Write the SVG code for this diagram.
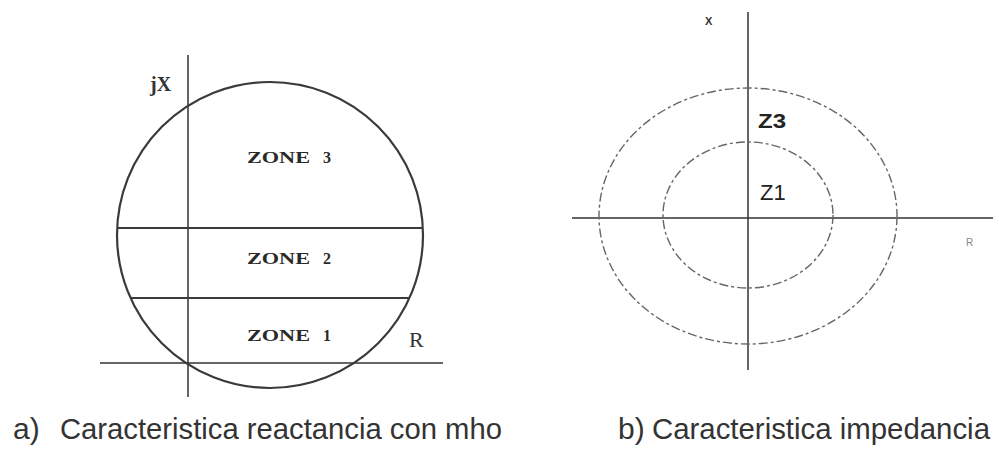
<svg xmlns="http://www.w3.org/2000/svg" width="999" height="449" viewBox="0 0 999 449">
<style>
.ax{stroke:#333;stroke-width:1.5;fill:none}
.bd{stroke:#3a3a3a;stroke-width:2.2;fill:none}
.dash{stroke:#666;stroke-width:1.4;fill:none;stroke-dasharray:9 3 3 3}
.zone{font-family:"Liberation Serif",serif;font-size:16px;font-weight:bold;fill:#2a2a2a}
.cap{font-family:"Liberation Sans",sans-serif;font-size:30px;fill:#333}
</style>
<rect width="999" height="449" fill="#fff"/>
<g id="diagram-a">
<g id="a-axes">
<line class="ax" x1="188" y1="55" x2="188" y2="397"/>
<line class="ax" x1="100" y1="363" x2="443" y2="363"/>
</g>
<g id="a-circle"><circle class="bd" cx="270" cy="235" r="153"/></g>
<g id="a-zones">
<line class="bd" x1="117" y1="228" x2="423" y2="228" stroke-width="2.6"/>
<line class="bd" x1="131" y1="298" x2="409" y2="298" stroke-width="2.6"/>
</g>
<text x="150" y="91" font-family="Liberation Serif,serif" font-size="20" font-weight="bold" fill="#333">jX</text>
<g id="zone3"><text class="zone" x="247" y="163" textLength="63" lengthAdjust="spacingAndGlyphs">ZONE</text><text class="zone" x="323" y="163">3</text></g>
<g id="zone2"><text class="zone" x="247" y="264" textLength="63" lengthAdjust="spacingAndGlyphs">ZONE</text><text class="zone" x="323" y="264">2</text></g>
<g id="zone1"><text class="zone" x="247" y="341" textLength="63" lengthAdjust="spacingAndGlyphs">ZONE</text><text class="zone" x="323" y="341">1</text></g>
<text x="409" y="347" font-family="Liberation Serif,serif" font-size="22" fill="#333">R</text>
</g>
<g id="diagram-b">
<g id="b-axes">
<line class="ax" x1="748" y1="12" x2="748" y2="370" stroke="#222"/>
<line class="ax" x1="572" y1="218" x2="993" y2="218" stroke="#222"/>
</g>
<g id="b-outer"><ellipse class="dash" cx="748" cy="216" rx="149" ry="128"/></g>
<g id="b-inner"><ellipse class="dash" cx="748" cy="215" rx="85" ry="73"/></g>
<text x="705" y="25" font-family="Liberation Sans,sans-serif" font-size="11" font-weight="bold" fill="#333">X</text>
<text x="758" y="128" font-family="Liberation Sans,sans-serif" font-size="20" font-weight="bold" fill="#222" textLength="28" lengthAdjust="spacingAndGlyphs">Z3</text>
<text x="760" y="200" font-family="Liberation Sans,sans-serif" font-size="22" fill="#222">Z1</text>
<text x="966" y="246" font-family="Liberation Sans,sans-serif" font-size="10" fill="#888">R</text>
</g>
<g id="captions">
<text class="cap" x="13" y="439">a)</text>
<text class="cap" x="60" y="439" textLength="442" lengthAdjust="spacingAndGlyphs">Caracteristica reactancia con mho</text>
<text class="cap" x="618" y="439">b)</text>
<text class="cap" x="652" y="439" textLength="338" lengthAdjust="spacingAndGlyphs">Caracteristica impedancia</text>
</g>
</svg>
